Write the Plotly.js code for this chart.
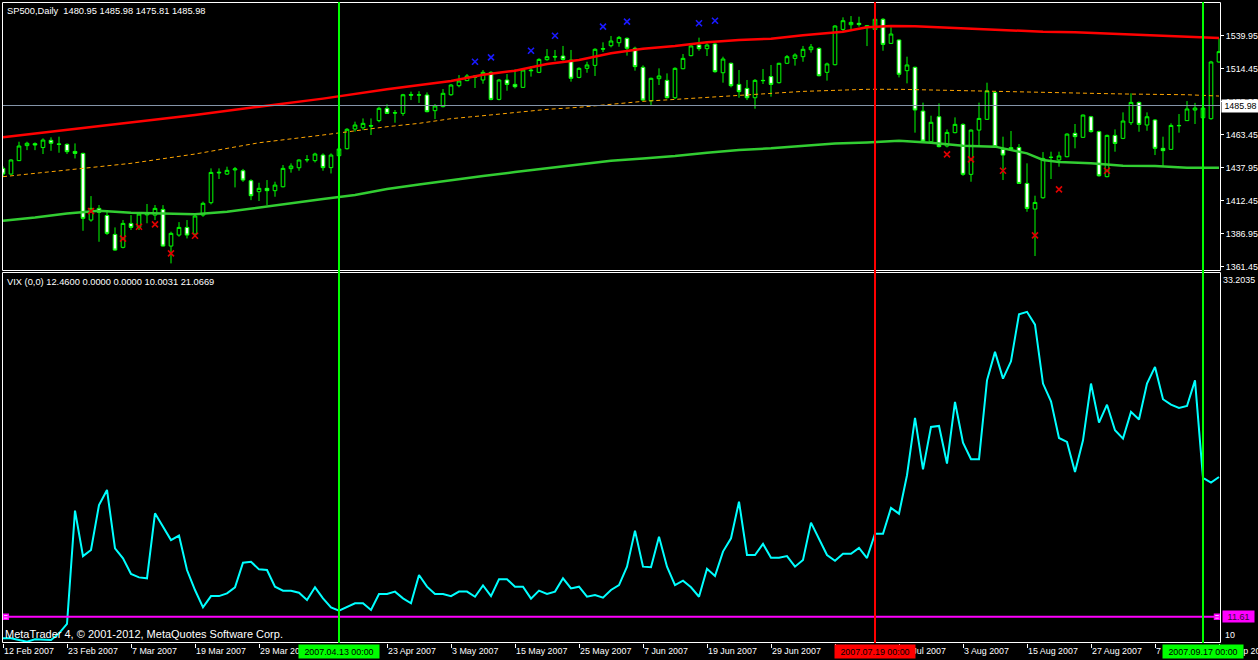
<!DOCTYPE html>
<html><head><meta charset="utf-8">
<script src="https://cdn.plot.ly/plotly-3.0.1.min.js"></script>
<style>html,body{margin:0;padding:0;background:#000;overflow:hidden}#chart{width:1258px;height:660px}</style>
</head><body><div id="chart"></div>
<script>
// ---- SP500 daily candles (bar 0 = 12 Feb 2007) ----
const openP = [1437.4,1433.0,1443.4,1455.0,1456.5,1453.5,1459.1,1456.3,1456.0,1450.5,1449.0,1397.5,1406.5,1401.0,1386.4,1376.4,1394.9,1391.8,1401.5,1401.3,1405.7,1377.4,1385.9,1391.8,1386.7,1401.3,1410.9,1434.5,1433.0,1436.2,1435.6,1427.9,1419.4,1422.0,1420.2,1423.2,1437.2,1437.9,1443.9,1443.4,1447.7,1438.0,1447.2,1452.6,1467.8,1468.8,1470.5,1474.3,1483.8,1480.4,1479.9,1494.5,1494.0,1494.1,1482.0,1485.1,1494.3,1501.3,1505.2,1508.8,1505.7,1511.6,1490.7,1505.7,1502.3,1500.0,1513.4,1511.6,1521.4,1523.9,1524.2,1521.1,1507.7,1514.7,1517.0,1529.9,1532.2,1534.5,1537.9,1530.2,1515.5,1489.7,1506.7,1505.4,1492.0,1514.4,1524.5,1532.7,1529.9,1533.5,1511.3,1518.6,1502.3,1499.2,1492.0,1505.4,1508.3,1503.6,1518.6,1522.4,1523.7,1529.1,1530.1,1511.6,1517.5,1544.8,1548.4,1549.5,1546.1,1544.8,1552.6,1534.0,1536.6,1512.9,1515.5,1481.7,1458.0,1477.3,1454.7,1465.0,1471.4,1432.8,1467.0,1475.3,1496.1,1452.1,1453.4,1453.6,1425.8,1406.0,1414.7,1446.0,1443.9,1446.4,1464.5,1461.4,1477.3,1465.8,1431.0,1462.9,1460.6,1472.7,1488.4,1470.9,1474.8,1452.9,1452.1,1470.6,1474.3,1482.5,1476.5,1475.8,1519.6];
const highP = [1439.0,1444.5,1458.0,1458.0,1457.5,1460.6,1461.4,1461.9,1456.7,1456.7,1449.5,1416.0,1409.1,1404.0,1391.8,1397.5,1401.3,1403.0,1409.9,1409.1,1409.0,1388.5,1395.9,1397.5,1402.6,1411.7,1437.4,1437.4,1438.7,1438.5,1437.0,1429.0,1426.3,1428.4,1427.1,1440.0,1441.3,1444.4,1447.7,1449.5,1449.0,1449.0,1453.0,1468.5,1473.5,1476.0,1476.0,1485.0,1486.9,1482.5,1495.0,1496.7,1497.0,1496.1,1487.1,1498.7,1502.5,1509.5,1510.3,1509.5,1513.4,1512.5,1506.5,1510.3,1513.9,1514.2,1516.5,1522.5,1529.6,1528.9,1532.0,1528.9,1515.5,1519.8,1530.2,1534.8,1539.7,1539.7,1538.6,1531.4,1517.0,1507.5,1514.7,1510.8,1515.5,1525.8,1534.0,1538.4,1534.0,1534.0,1523.7,1519.1,1513.4,1505.7,1506.4,1514.2,1517.3,1519.0,1525.0,1526.3,1532.0,1533.5,1531.0,1519.1,1548.0,1554.1,1555.1,1554.6,1548.2,1553.5,1553.5,1546.4,1537.0,1523.7,1516.0,1488.2,1478.1,1487.6,1467.5,1476.8,1472.2,1467.5,1488.2,1503.6,1497.0,1461.9,1466.3,1456.2,1441.3,1416.3,1450.0,1450.3,1450.3,1464.5,1471.7,1479.0,1478.0,1466.5,1463.5,1467.5,1480.7,1495.4,1489.0,1480.7,1475.5,1461.9,1472.2,1479.4,1489.4,1488.0,1486.0,1520.5,1537.9];
const lowP = [1431.0,1432.5,1443.0,1451.5,1451.5,1448.5,1451.0,1449.5,1448.5,1445.1,1389.2,1396.2,1380.7,1386.0,1373.8,1375.6,1389.8,1389.8,1395.0,1397.5,1376.9,1364.0,1384.6,1383.3,1385.9,1400.0,1409.6,1429.2,1432.3,1422.7,1427.0,1412.9,1412.2,1409.1,1415.5,1422.7,1434.1,1435.6,1442.1,1442.0,1435.6,1433.5,1446.0,1452.0,1465.8,1467.0,1463.2,1473.0,1479.4,1472.7,1478.0,1490.2,1488.0,1480.7,1475.5,1484.5,1493.5,1500.0,1504.8,1499.5,1502.8,1490.0,1490.0,1497.4,1499.2,1499.7,1508.3,1511.0,1520.6,1520.6,1520.6,1504.4,1507.0,1511.3,1508.8,1527.3,1530.9,1531.4,1524.5,1512.9,1489.5,1486.4,1501.8,1491.5,1491.0,1514.0,1524.0,1528.3,1524.2,1511.3,1503.6,1500.0,1492.0,1490.2,1483.5,1502.6,1492.8,1503.0,1518.0,1516.8,1519.8,1526.8,1508.5,1505.2,1517.0,1543.0,1545.1,1546.9,1531.9,1544.0,1528.3,1533.5,1507.7,1503.1,1465.0,1458.0,1457.2,1453.6,1453.6,1464.5,1431.7,1427.1,1454.2,1474.8,1453.5,1428.4,1451.6,1425.5,1403.9,1369.7,1414.0,1429.2,1438.7,1446.0,1452.9,1461.0,1465.0,1431.0,1430.5,1450.3,1460.0,1470.9,1465.7,1466.5,1447.7,1438.7,1451.6,1465.0,1474.0,1471.7,1475.8,1475.0,1519.0];
const closeP = [1433.0,1443.9,1454.7,1456.8,1455.5,1459.3,1456.8,1456.0,1450.3,1449.0,1398.8,1406.5,1403.5,1387.2,1374.3,1394.9,1391.8,1402.1,1402.5,1406.5,1377.4,1387.2,1391.8,1385.9,1400.6,1410.4,1434.3,1434.0,1435.9,1437.0,1428.4,1416.3,1422.0,1420.2,1424.5,1437.4,1439.2,1443.9,1444.2,1448.5,1438.0,1447.7,1452.4,1467.6,1470.9,1472.2,1470.1,1483.8,1479.9,1480.2,1494.3,1494.0,1494.2,1481.2,1485.6,1495.4,1501.8,1504.9,1508.8,1507.8,1511.6,1490.7,1505.7,1502.3,1500.5,1513.4,1512.9,1521.6,1523.7,1523.5,1521.6,1507.0,1514.7,1517.3,1529.4,1529.6,1535.8,1538.6,1530.2,1516.0,1490.2,1507.0,1508.8,1492.0,1514.7,1522.4,1532.0,1529.9,1532.7,1512.1,1521.9,1501.3,1496.7,1492.0,1505.4,1505.2,1502.3,1518.6,1523.7,1525.0,1529.4,1531.2,1509.0,1518.1,1547.4,1551.5,1550.2,1548.5,1547.7,1552.6,1533.2,1541.2,1510.1,1517.3,1482.5,1458.5,1473.0,1454.2,1465.2,1471.4,1432.8,1467.0,1476.0,1497.2,1454.2,1447.7,1452.4,1425.8,1406.5,1411.1,1445.1,1445.9,1447.0,1463.9,1461.9,1478.6,1465.8,1431.7,1462.9,1456.7,1474.0,1488.4,1471.4,1477.3,1452.9,1451.1,1470.6,1470.4,1483.3,1484.0,1484.0,1519.6,1527.6];

// ---- VIX (one value per bar) ----
const vixVals = [10.26,10.26,10.16,10.05,10.2,10.2,10.16,10.57,11.16,18.24,15.4,15.78,18.59,19.53,15.88,15.26,14.28,14.07,14.01,18.07,17.24,16.4,16.68,14.53,13.28,12.2,12.9,12.9,13.07,13.45,14.99,15.05,14.57,14.53,13.49,13.24,13.24,13.11,12.66,13.45,12.76,12.2,11.99,12.2,12.45,12.45,12.03,13.03,13.03,13.18,12.76,12.45,14.22,
13.49,13.03,13.03,12.9,13.18,13.18,12.86,13.57,12.9,13.95,13.95,13.49,13.49,12.74,13.24,13.03,13.18,14.01,13.38,13.49,12.86,12.97,12.8,13.28,13.59,14.74,16.99,14.74,14.7,16.61,14.74,13.59,13.86,13.45,12.86,14.61,14.16,15.68,16.51,18.8,15.47,15.47,16.16,15.3,15.3,15.4,14.74,15.16,17.49,16.51,15.47,15.11,
15.55,15.55,15.91,15.28,16.8,16.8,18.41,18.05,20.45,24.03,20.82,23.47,23.53,21.18,25.03,22.49,21.45,21.45,26.38,28.16,26.49,27.57,30.51,30.66,29.86,26.18,25.07,22.78,22.53,20.66,22.63,26.18,23.74,24.86,23.26,22.74,24.41,23.93,26.18,27.22,25.2,24.86,24.66,24.78,26.38,20.28,19.99,20.34];

// ---- band lines (read at sampled bars) ----
const upperBars = [0,8,16,24,32,40,48,52,56,60,64,68,72,76,80,84,88,92,96,100,104,105,108,111,114,118,122,126,130,134,138,142,146,150,152];
const upperVals = [1461.4,1467.3,1473.0,1478.6,1485.1,1491.3,1498.5,1501.8,1504.9,1509.8,1512.9,1518.0,1521.1,1526.3,1529.9,1532.0,1534.8,1536.6,1537.6,1540.2,1542.0,1543.0,1546.4,1547.4,1547.2,1546.1,1545.1,1543.8,1543.0,1542.5,1541.5,1540.7,1539.7,1538.6,1538.1];
const midBars = [0,8,16,24,32,40,48,52,56,60,64,68,72,76,80,84,88,92,96,100,104,108,112,116,120,124,128,132,136,140,144,148,152];
const midVals = [1431.0,1436.1,1441.3,1448.5,1457.2,1463.2,1469.6,1472.2,1475.8,1478.1,1480.4,1483.0,1484.6,1487.1,1489.2,1490.7,1492.3,1493.8,1495.4,1496.9,1497.7,1498.5,1498.5,1497.9,1497.2,1496.7,1496.1,1495.9,1495.4,1494.9,1494.6,1494.3,1493.3];
const lowerBars = [0,4,8,12,16,20,24,28,32,36,40,44,48,52,56,60,64,68,72,76,80,84,88,92,96,100,104,108,112,116,120,124,128,130,132,136,140,144,148,152];
const lowerVals = [1397.0,1399.5,1402.6,1404.7,1403.2,1402.6,1401.9,1403.9,1407.3,1410.4,1413.7,1416.8,1421.4,1425.0,1428.4,1431.5,1434.6,1437.4,1440.2,1443.3,1445.1,1446.9,1449.5,1451.6,1452.9,1454.9,1456.7,1457.5,1458.8,1457.2,1454.9,1454.2,1449.0,1443.9,1442.3,1441.3,1439.5,1439.2,1437.9,1437.9];

// ---- signal crosses ----
const blueXBars = [59,61,66,69,75,78,87,89];
const blueXVals = [1519.8,1523.2,1528.3,1539.9,1546.9,1550.8,1549.5,1551.5];
const redXBars = [11,15,17,19,21,24,118,121,125,129,132,138];
const redXVals = [1404.4,1383.1,1392.3,1394.2,1371.7,1385.4,1448.2,1444.4,1435.6,1385.6,1421.2,1435.6];

// ---- levels, vertical lines, labels ----
const priceLevel = 1485.98;
const vixLevel = 11.61;
const priceTicks = [1361.45,1386.95,1412.45,1437.95,1463.45,1488.95,1514.45,1539.95];
const dateTickBars = [0,8,16,24,32,48,56,64,72,80,88,96,104,112,120,128,136,144,152];
const dateTickLabels = ["12 Feb 2007","23 Feb 2007","7 Mar 2007","19 Mar 2007","29 Mar 2007","23 Apr 2007","3 May 2007","15 May 2007","25 May 2007","7 Jun 2007","19 Jun 2007","29 Jun 2007","12 Jul 2007","24 Jul 2007","3 Aug 2007","15 Aug 2007","27 Aug 2007","7 Sep 2007","19 Sep 2007"];
const vlineBars = [42,109,150];
const vlineColors = ["#00ff00","#ff0000","#00ff00"];
const vlineLabels = ["2007.04.13 00:00","2007.07.19 00:00","2007.09.17 00:00"];
const headerText = "SP500,Daily\u00a0 1480.95 1485.98 1475.81 1485.98";
const vixHeader = "VIX (0,0) 12.4600 0.0000 0.0000 10.0031 21.0669";
const copyrightText = "MetaTrader 4, \u00a9 2001-2012, MetaQuotes Software Corp.";
const vixMaxLabel = "33.2035", vixMinLabel = "10";

const bars = openP.map((_, i) => i);
const FONT = "Liberation Sans, Arial, sans-serif";
const TOP0 = 0.5819, BOT1 = 0.5788;
// pixel helpers for crisp 1px frame lines (plot area: x 2..1220, y 2..643)
const pxX = (px) => (px - 2) / 1218;
const pxY = (py) => (643 - py) / 641;

const traces = [
  {type:'scatter', mode:'lines', x:lowerBars, y:lowerVals, xaxis:'x', yaxis:'y', line:{color:'#32cd32', width:2.5}, hoverinfo:'skip'},
  {type:'scatter', mode:'lines', x:midBars, y:midVals, xaxis:'x', yaxis:'y', line:{color:'#ffa500', width:1, dash:'4px,3px'}, hoverinfo:'skip'},
  {type:'scatter', mode:'lines', x:upperBars, y:upperVals, xaxis:'x', yaxis:'y', line:{color:'#ff0000', width:2.5}, hoverinfo:'skip'},
  {type:'candlestick', x:bars, open:openP, high:highP, low:lowP, close:closeP, xaxis:'x', yaxis:'y',
    increasing:{line:{color:'#00ff00', width:1}, fillcolor:'#000000'},
    decreasing:{line:{color:'#00ff00', width:1}, fillcolor:'#ffffff'},
    whiskerwidth:0, hoverinfo:'skip'},
  {type:'scatter', mode:'markers', x:blueXBars, y:blueXVals, xaxis:'x', yaxis:'y', marker:{symbol:'x-thin', size:6, line:{color:'#1a1aff', width:1.6}}, hoverinfo:'skip'},
  {type:'scatter', mode:'markers', x:redXBars, y:redXVals, xaxis:'x', yaxis:'y', marker:{symbol:'x-thin', size:6, line:{color:'#e00000', width:1.6}}, hoverinfo:'skip'},
  {type:'scatter', mode:'lines', x:bars, y:vixVals, xaxis:'x', yaxis:'y2', line:{color:'#00ffff', width:2}, hoverinfo:'skip'},
  {type:'scatter', mode:'markers', x:[0.35, 151.75], y:[vixLevel, vixLevel], xaxis:'x', yaxis:'y2',
    marker:{symbol:'square', size:5, color:'#ffffff', line:{color:'#ff00ff', width:1.5}}, hoverinfo:'skip'}
];

const shapes = [
  {type:'line', xref:'paper', x0:0, x1:1, yref:'y', y0:priceLevel, y1:priceLevel, line:{color:'#8494a8', width:1}},
  {type:'line', xref:'paper', x0:0, x1:1, yref:'y2', y0:vixLevel, y1:vixLevel, line:{color:'#ff00ff', width:2}},
  {type:'rect', xref:'paper', x0:pxX(2.5), x1:pxX(1220.5), yref:'paper', y0:pxY(270.5), y1:pxY(2.5), line:{color:'#ffffff', width:1}},
  {type:'rect', xref:'paper', x0:pxX(2.5), x1:pxX(1220.5), yref:'paper', y0:pxY(642.5), y1:pxY(272.5), line:{color:'#ffffff', width:1}}
];
vlineBars.forEach((b, k) => shapes.push({type:'line', xref:'x', x0:b, x1:b, yref:'paper', y0:0, y1:1, line:{color:vlineColors[k], width:2}}));

const txt = (c, s) => ({family:FONT, size:s, color:c});
const annotations = [
  {xref:'paper', yref:'paper', x:0, y:1, xanchor:'left', yanchor:'top', xshift:3, yshift:-2, text:headerText, showarrow:false, font:txt('#ffffff', 9.3)},
  {xref:'paper', yref:'paper', x:0, y:BOT1, xanchor:'left', yanchor:'top', xshift:3, yshift:-3, text:vixHeader, showarrow:false, font:txt('#ffffff', 9.3)},
  {xref:'paper', yref:'paper', x:0, y:0, xanchor:'left', yanchor:'bottom', xshift:1, yshift:1, text:copyrightText, showarrow:false, font:txt('#ffffff', 11)},
  {xref:'paper', yref:'paper', x:1, y:BOT1, xanchor:'left', yanchor:'top', xshift:1, yshift:-1, text:vixMaxLabel, showarrow:false, font:txt('#ffffff', 8.9)},
  {xref:'paper', yref:'paper', x:1, y:0, xanchor:'left', yanchor:'bottom', xshift:3, yshift:1, text:vixMinLabel, showarrow:false, font:txt('#ffffff', 8.9)},
  {xref:'paper', yref:'y', x:1, y:priceLevel, xanchor:'left', xshift:1, text:priceLevel.toFixed(2), showarrow:false, bgcolor:'#ffffff', borderpad:1, width:35, height:10, font:txt('#000000', 8.9)},
  {xref:'paper', yref:'y2', x:1, y:vixLevel, xanchor:'left', xshift:2, text:vixLevel.toFixed(2), showarrow:false, bgcolor:'#ff00ff', borderpad:1, width:29, height:9, font:txt('#301030', 9)}
];
dateTickBars.forEach((b, k) => annotations.push({xref:'x', yref:'paper', x:b, y:0, xanchor:'left', yanchor:'top', xshift:-1, yshift:-1, text:dateTickLabels[k], showarrow:false, font:txt('#ffffff', 8.9)}));
vlineBars.forEach((b, k) => annotations.push({xref:'x', yref:'paper', x:b, y:0, xanchor:'center', yanchor:'top', yshift:-1, text:vlineLabels[k], showarrow:false, bgcolor:vlineColors[k], borderpad:1, width:78, height:11, font:txt('#000000', 8.9)}));

const layout = {
  width:1258, height:660,
  margin:{l:2, r:38, t:2, b:17},
  paper_bgcolor:'#000000', plot_bgcolor:'#000000',
  showlegend:false, boxgap:0.35,
  xaxis:{domain:[0,1], range:[-0.125,152.125], anchor:'y2', showgrid:false, zeroline:false,
    rangeslider:{visible:false}, tickvals:dateTickBars, ticks:'outside', ticklen:4, tickcolor:'#ffffff',
    showticklabels:false, showline:false},
  yaxis:{domain:[TOP0,1], range:[1358.9,1565.95], side:'right', anchor:'x', showgrid:false, zeroline:false,
    tickvals:priceTicks, ticktext:priceTicks.map(v=>v.toFixed(2)), ticks:'outside', ticklen:3, tickcolor:'#ffffff',
    tickfont:txt('#ffffff', 8.9), showline:false},
  yaxis2:{domain:[0,BOT1], range:[9.97,33.15], side:'right', anchor:'x', showgrid:false, zeroline:false,
    showticklabels:false, ticks:'', showline:false},
  shapes:shapes, annotations:annotations
};

Plotly.newPlot('chart', traces, layout, {displayModeBar:false, staticPlot:true});
</script></body></html>
